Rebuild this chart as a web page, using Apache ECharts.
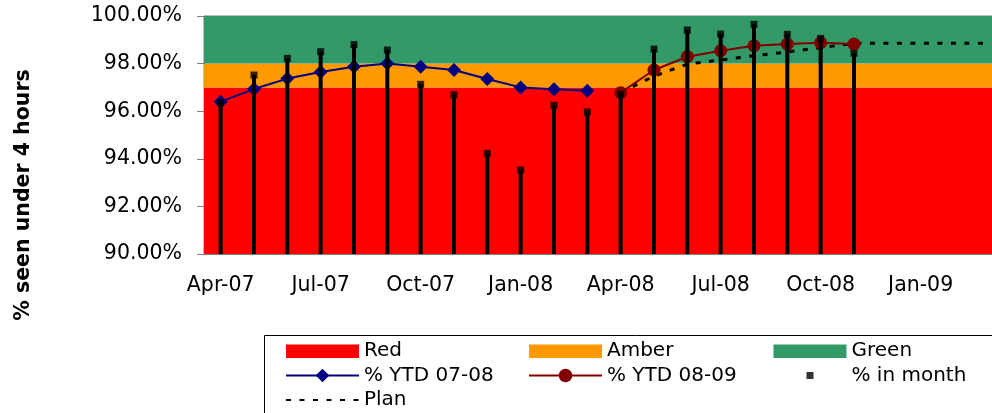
<!DOCTYPE html>
<html><head><meta charset="utf-8">
<script src="https://cdn.jsdelivr.net/npm/echarts@6/dist/echarts.min.js"></script>
<style>html,body{margin:0;padding:0;background:#fff;overflow:hidden}#c{width:1006px;height:413px}</style>
</head><body><div id="c"></div>
<script>
const months = ['Apr-07','May-07','Jun-07','Jul-07','Aug-07','Sep-07','Oct-07','Nov-07','Dec-07','Jan-08','Feb-08','Mar-08',
                'Apr-08','May-08','Jun-08','Jul-08','Aug-08','Sep-08','Oct-08','Nov-08','Dec-08','Jan-09','Feb-09','Mar-09'];
const ytd0708 = [96.40,96.93,97.37,97.65,97.87,98.00,97.87,97.73,97.35,97.00,96.92,96.86];
const ytd0809 = [96.78,97.73,98.29,98.54,98.75,98.82,98.88,98.82];
const inMonth = [96.36,97.52,98.22,98.50,98.80,98.57,97.13,96.69,94.23,93.53,96.25,95.97,
                 96.72,98.61,99.41,99.24,99.65,99.23,99.06,98.43];
const plan = [96.78,97.47,97.98,98.15,98.33,98.49,98.67,98.85,98.85,98.85,98.85,98.85];
const bandNames = ['Red','Amber','Green'];
const bandLow = [90,97,98];
const bandHigh = [97,98,100];
const bandColors = ['#ff0000','#ff9900','#339966'];
const yMin = 90, yMax = 100, yStep = 2;

const N = months.length;
function place(arr, start){ const out = new Array(N).fill(null); arr.forEach((v,i)=>{out[start+i]=v;}); return out; }

const FONT = 'DejaVu Sans';
const chart = echarts.init(document.getElementById('c'), null, {renderer:'canvas'});

const bandSeries = bandNames.map((nm,i)=>({
  name: nm, type:'line', data:[], z:1, itemStyle:{color:bandColors[i]}, lineStyle:{color:bandColors[i]},
  markArea:{silent:true, itemStyle:{color:bandColors[i], opacity:1}, data:[[{yAxis:bandLow[i]},{yAxis:bandHigh[i]}]]}
}));

// legend icons in a 73x17 box (tiny corner specks fix the bounding box)
const corners = 'M0,0 L0.01,0 L0,0.01 Z M73,17 L72.99,17 L73,16.99 Z ';
const bandIcon = 'path://' + corners + 'M0,2 L73,2 L73,15.5 L0,15.5 Z';
const monthSquare = 'path://' + corners + 'M33,5 L40,5 L40,12 L33,12 Z';

const legendBase = {orient:'vertical', padding:0, itemWidth:73, itemHeight:17, itemGap:4.5,
  textStyle:{fontFamily:FONT, fontSize:20, color:'#000', lineHeight:20}, selectedMode:false};

chart.setOption({
  animation:false,
  backgroundColor:'#fff',
  textStyle:{fontFamily:FONT},
  grid:{left:204, top:16, width:800, height:238, show:true, borderColor:'#808080', borderWidth:1, backgroundColor:'transparent'},
  xAxis:{type:'category', data:months, boundaryGap:true,
    axisLine:{lineStyle:{color:'#808080', width:1}},
    axisTick:{interval:2, length:6, lineStyle:{color:'#808080'}},
    axisLabel:{interval:2, fontSize:20.5, color:'#000', margin:21, fontFamily:FONT}},
  yAxis:{type:'value', min:yMin, max:yMax, interval:yStep,
    splitLine:{show:false},
    axisLine:{show:true, lineStyle:{color:'#808080'}},
    axisTick:{show:true, length:7, lineStyle:{color:'#808080'}},
    axisLabel:{fontSize:20.5, color:'#000', margin:22, fontFamily:FONT, formatter:v=>v.toFixed(2)+'%'}},
  legend:[
    Object.assign({}, legendBase, {left:285, top:341, data:[
      {name:'Red', icon:bandIcon}, {name:'% YTD 07-08'}, {name:'Plan', itemStyle:{opacity:0}}]}),
    Object.assign({}, legendBase, {left:528, top:341, data:[
      {name:'Amber', icon:bandIcon}, {name:'% YTD 08-09'}]}),
    Object.assign({}, legendBase, {left:773.5, top:341, data:[
      {name:'Green', icon:bandIcon}, {name:'% in month', icon:monthSquare}]})
  ],
  graphic:[
    {type:'rect', shape:{x:264.5, y:335.5, width:800, height:120}, style:{fill:'none', stroke:'#000', lineWidth:1}, silent:true},
    {type:'text', x:24, y:195, rotation:Math.PI/2, silent:true,
     style:{text:'% seen under 4 hours', x:0, y:0, align:'center', verticalAlign:'middle', fill:'#000',
            font:'bold 20.5px "DejaVu Sans"'}}
  ],
  series: bandSeries.concat([
    {name:'Plan', type:'line', data:place(plan,12), z:3, symbol:'none', connectNulls:false,
     lineStyle:{color:'#000', width:3, type:[5,8.5]}, itemStyle:{color:'#000'}},
    {name:'% YTD 07-08', type:'line', data:place(ytd0708,0), z:3, symbol:'diamond', symbolSize:14,
     lineStyle:{color:'#000080', width:2}, itemStyle:{color:'#000080'}},
    {name:'% YTD 08-09', type:'line', data:place(ytd0809,12), z:3, symbol:'circle', symbolSize:13,
     lineStyle:{color:'#800000', width:2}, itemStyle:{color:'#800000'}},
    {name:'stems', type:'bar', data:place(inMonth,0), z:4, barWidth:4, clip:true,
     itemStyle:{color:'#000'}, silent:true},
    {name:'% in month', type:'scatter', data:place(inMonth,0), z:5, symbol:'rect', symbolSize:7,
     itemStyle:{color:'#000'}}
  ])
});
</script></body></html>
